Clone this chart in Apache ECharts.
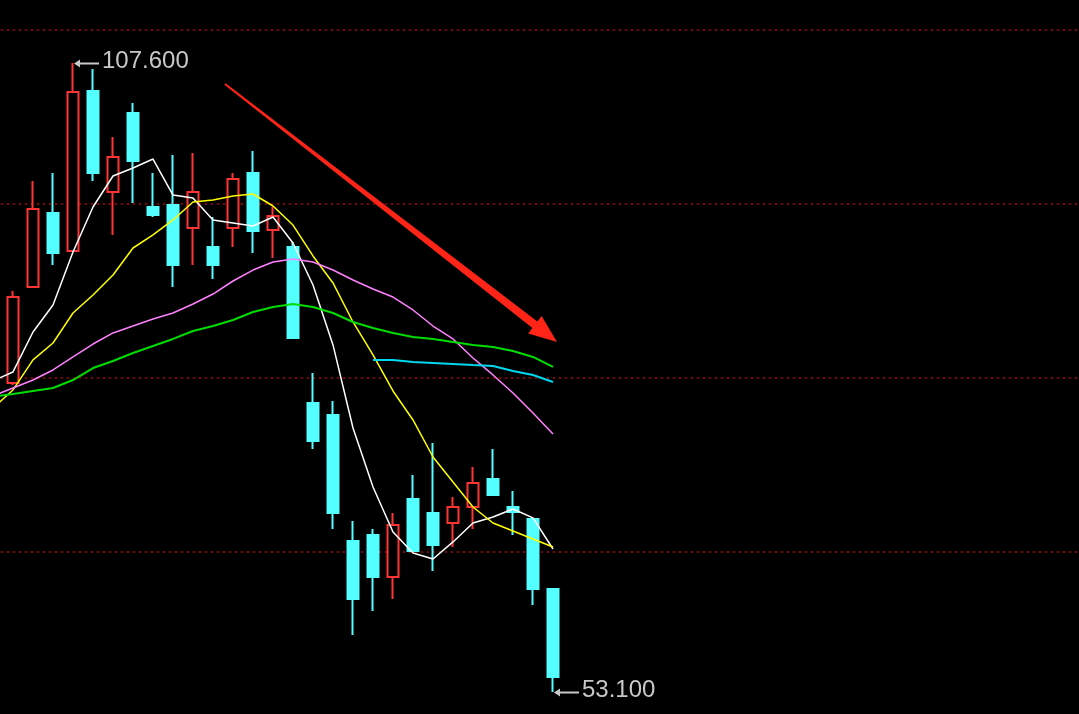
<!DOCTYPE html>
<html>
<head>
<meta charset="utf-8">
<style>
  html, body { margin: 0; padding: 0; background: #000; }
  #chart { width: 1079px; height: 714px; }
</style>
<script src="https://cdn.jsdelivr.net/npm/echarts@6/dist/echarts.min.js"></script>
</head>
<body>
<div id="chart"></div>
<script>
// ---------- data ----------
// category 0 is the session just left of the view (only MA values visible)
const categoryCount = 55;
const categories = Array.from({ length: categoryCount }, (_, i) => String(i));

const opens  = [79.87, 88.19, 94.60, 91.31, 105.17, 96.42, 103.27, 95.12, 95.30, 93.30, 91.66, 93.30, 98.07, 93.13, 91.66, 78.14, 77.10, 66.18, 66.70, 63.06, 69.82, 68.61, 67.74, 69.13, 71.55, 69.13, 68.09, 62.02];
const closes = [87.32, 94.95, 91.14, 105.09, 98.07, 99.46, 99.11, 94.43, 90.10, 96.42, 90.10, 97.55, 93.04, 94.34, 83.77, 74.85, 68.61, 61.16, 63.06, 67.57, 65.32, 65.84, 69.13, 71.21, 70.17, 68.70, 62.02, 54.40];
const lows   = [79.70, 88.19, 90.10, 91.31, 97.38, 92.70, 95.47, 94.26, 88.19, 90.10, 88.88, 91.66, 91.14, 90.70, 83.77, 74.15, 67.22, 58.04, 60.12, 61.16, 65.32, 63.58, 65.66, 67.22, 70.17, 66.70, 60.64, 53.10];
const highs  = [87.84, 97.38, 98.07, 107.60, 107.08, 101.19, 104.13, 98.07, 99.63, 99.80, 94.26, 98.07, 99.98, 95.12, 92.09, 80.74, 78.31, 67.92, 67.22, 68.61, 71.90, 74.67, 70.00, 72.59, 74.15, 70.51, 68.09, 62.02];

const ma5  = [80.05, 80.83, 84.29, 86.63, 91.22, 95.12, 97.81, 98.50, 99.28, 96.16, 95.90, 94.00, 93.74, 93.48, 94.26, 92.00, 88.36, 83.17, 75.97, 70.86, 66.96, 65.14, 64.62, 66.10, 67.74, 68.26, 68.95, 68.18, 65.49];
const ma10 = [77.71, 79.27, 81.87, 83.34, 85.94, 87.50, 89.23, 91.57, 92.70, 94.00, 95.56, 95.73, 96.08, 96.25, 95.21, 93.56, 90.88, 88.54, 85.16, 82.30, 79.18, 76.67, 73.46, 71.29, 69.13, 67.74, 67.05, 66.36, 65.66];
const ma20 = [78.75, 79.44, 80.13, 81.00, 82.13, 83.25, 84.21, 84.81, 85.42, 85.94, 86.72, 87.58, 88.71, 89.66, 90.36, 90.62, 90.36, 89.66, 88.80, 88.02, 87.32, 86.20, 84.81, 83.69, 82.04, 80.57, 79.01, 77.27, 75.45];
const ma30 = [78.70, 78.92, 79.18, 79.44, 80.13, 81.17, 81.78, 82.47, 83.08, 83.69, 84.38, 84.81, 85.33, 86.02, 86.46, 86.72, 86.46, 85.94, 85.16, 84.64, 84.21, 83.86, 83.69, 83.43, 83.17, 82.99, 82.65, 82.13, 81.26];
const ma60 = ['-', '-', '-', '-', '-', '-', '-', '-', '-', '-', '-', '-', '-', '-', '-', '-', '-', '-', '-',
              81.87, 81.87, 81.69, 81.61, 81.52, 81.43, 81.35, 80.91, 80.57, 79.96];

// annotations
const maxLabel = { index: 4, value: 107.6, text: '107.600' };
const minLabel = { index: 28, value: 53.1, text: '53.100' };
const trendArrow = { from: [11.6, 105.78], to: [28.2, 83.43] }; // [category index, price]

const priceMin = 50.15, priceMax = 110.46;

// ---------- build ----------
const candleData = [['-', '-', '-', '-']].concat(opens.map((o, i) => [o, closes[i], lows[i], highs[i]]));

const chart = echarts.init(document.getElementById('chart'), null, { renderer: 'canvas' });

const lineSeries = (name, data, color, width) => ({
  name, type: 'line', data, symbol: 'none', smooth: false, z: 5,
  lineStyle: { color, width }, silent: true, connectNulls: false
});

chart.setOption({
  backgroundColor: '#000000',
  animation: false,
  grid: { left: -17, top: 30, width: 1100, height: 696, containLabel: false, outerBoundsMode: 'none' },
  xAxis: {
    type: 'category', data: categories, boundaryGap: true,
    axisLine: { show: false }, axisTick: { show: false }, axisLabel: { show: false },
    splitLine: { show: false }
  },
  yAxis: [
    { type: 'value', min: priceMin, max: priceMax,
      axisLine: { show: false }, axisTick: { show: false }, axisLabel: { show: false },
      splitLine: { show: false } },
    { type: 'value', min: 0, max: 4, interval: 1,
      axisLine: { show: false }, axisTick: { show: false }, axisLabel: { show: false },
      splitLine: { show: true, lineStyle: { color: '#8a0000', width: 2, type: [2, 4] } } }
  ],
  series: [
    {
      type: 'candlestick', data: candleData, barWidth: 12, z: 2,
      itemStyle: {
        color: '#000000', color0: '#54ffff',
        borderColor: '#ff3535', borderColor0: '#54ffff', borderWidth: 2
      }
    },
    lineSeries('MA5', ma5, '#ffffff', 1.5),
    lineSeries('MA10', ma10, '#ffff00', 1.5),
    lineSeries('MA20', ma20, '#ff80ff', 1.5),
    lineSeries('MA30', ma30, '#00dd00', 2),
    lineSeries('MA60', ma60, '#00d8f0', 2)
  ]
});

// ---------- annotations placed through the chart's own scales ----------
function toPx(idx, val) {
  const i0 = Math.floor(idx), i1 = Math.ceil(idx);
  const p0 = chart.convertToPixel({ xAxisIndex: 0, yAxisIndex: 0 }, [i0, val]);
  const p1 = chart.convertToPixel({ xAxisIndex: 0, yAxisIndex: 0 }, [i1, val]);
  const t = idx - i0;
  return [p0[0] + (p1[0] - p0[0]) * t, p0[1]];
}

function priceTag(lbl) {
  const p = toPx(lbl.index, lbl.value);
  const x0 = p[0] + 1, x1 = p[0] + 26, y = Math.round(p[1]) + 0.5;
  return [
    { type: 'line', shape: { x1: x0 + 3, y1: y, x2: x1, y2: y },
      style: { stroke: '#c8c8c8', lineWidth: 2 }, z: 20 },
    { type: 'polygon', shape: { points: [[x0, y], [x0 + 6, y - 4], [x0 + 6, y + 4]] },
      style: { fill: '#c8c8c8' }, z: 20 },
    { type: 'text', x: x1 + 3, y: y - 2,
      style: { text: lbl.text, fill: '#c8c8c8', font: '24px "Liberation Sans", Arial, sans-serif',
               textAlign: 'left', textVerticalAlign: 'middle' }, z: 20 }
  ];
}

function arrowShape(a) {
  const t = toPx(a.from[0], a.from[1]);
  const h = toPx(a.to[0], a.to[1]);
  const dx = h[0] - t[0], dy = h[1] - t[1];
  const len = Math.hypot(dx, dy);
  const ux = dx / len, uy = dy / len;
  const nx = -uy, ny = ux;
  const headLen = 28, headHalf = 11, shaftEnd = 4, shaftStart = 1;
  const bx = h[0] - ux * headLen, by = h[1] - uy * headLen;
  const pts = [
    [t[0] + nx * shaftStart, t[1] + ny * shaftStart],
    [bx + nx * shaftEnd, by + ny * shaftEnd],
    [bx + nx * headHalf, by + ny * headHalf],
    [h[0], h[1]],
    [bx - nx * headHalf, by - ny * headHalf],
    [bx - nx * shaftEnd, by - ny * shaftEnd],
    [t[0] - nx * shaftStart, t[1] - ny * shaftStart]
  ];
  return { type: 'polygon', shape: { points: pts }, style: { fill: '#ff2418' }, z: 20 };
}

chart.setOption({
  graphic: [].concat(priceTag(maxLabel), priceTag(minLabel), [arrowShape(trendArrow)])
});
</script>
</body>
</html>
